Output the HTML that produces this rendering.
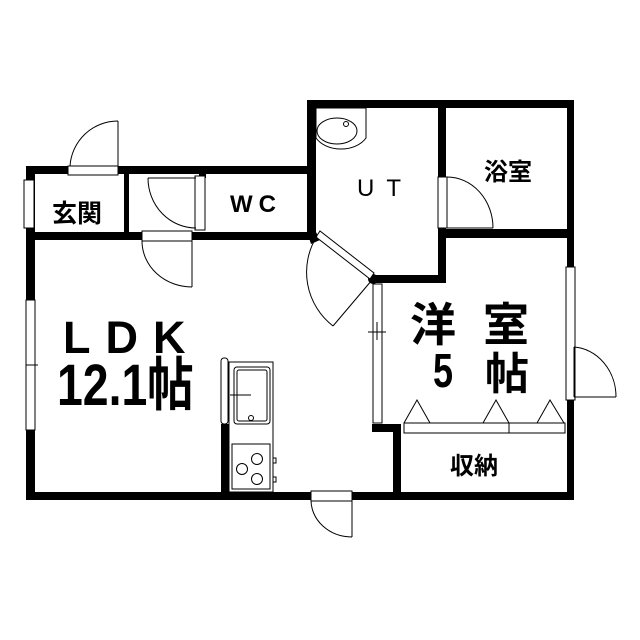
<!DOCTYPE html>
<html><head><meta charset="utf-8"><style>html,body{margin:0;padding:0;background:#fff}svg{display:block}</style></head>
<body>
<svg width="640" height="640" viewBox="0 0 640 640" xmlns="http://www.w3.org/2000/svg" font-family="'Liberation Sans','Noto Sans CJK JP',sans-serif">
<rect width="640" height="640" fill="#fff"/>
<g fill="#000">
<rect x="26" y="166" width="289" height="8"/>
<rect x="26" y="166" width="9" height="334"/>
<rect x="26" y="232" width="289" height="8"/>
<rect x="124" y="166" width="5" height="74"/>
<rect x="307" y="100" width="9" height="140"/>
<rect x="307" y="100" width="267" height="8"/>
<rect x="567" y="100" width="7" height="400"/>
<rect x="438" y="100" width="8" height="183"/>
<rect x="438" y="229" width="136" height="9"/>
<rect x="372" y="275" width="74" height="8"/>
<rect x="26" y="492" width="548" height="8"/>
<rect x="393" y="424" width="8" height="76"/>
<rect x="372" y="424" width="29" height="8"/>
<rect x="221" y="424" width="8" height="70"/>
<rect x="199" y="174" width="7" height="4"/>
<polygon points="307,232 316,232 320,240 311,244"/>
<circle cx="373" cy="279" r="5"/>
</g>
<g fill="#fff" stroke="#000" stroke-width="1">
<rect x="68" y="166" width="50" height="9"/>
<rect x="24" y="180" width="10" height="48"/>
<rect x="195" y="176" width="10" height="54"/>
<rect x="142" y="231" width="50" height="10"/>
<rect x="26" y="300" width="9" height="130"/>
<rect x="438" y="177" width="9" height="51"/>
<rect x="566" y="267" width="9" height="133"/>
<rect x="373" y="284" width="9" height="139"/>
<rect x="311" y="491" width="41" height="10"/>
<rect x="404" y="423" width="105" height="10"/>
<rect x="509" y="423" width="56" height="10"/>
<polygon points="316,237 320,231 374,273 370,279"/>
</g>
<g fill="none" stroke="#000" stroke-width="1">
<line x1="118" y1="121" x2="118" y2="166"/>
<path d="M118,121 A48,48 0 0 0 70,166"/>
<line x1="148" y1="178" x2="196" y2="178"/>
<path d="M148,178 A48,50 0 0 0 196,228"/>
<line x1="192" y1="241" x2="192" y2="287"/>
<path d="M142,241 A50,46 0 0 0 192,287"/>
<line x1="447" y1="228" x2="493" y2="228"/>
<path d="M447,177 A46,51 0 0 1 493,228"/>
<line x1="372" y1="280" x2="333" y2="326"/>
<path d="M317,236 A68,68 0 0 0 333,326"/>
<line x1="574" y1="347" x2="574" y2="397"/>
<path d="M574,347 A45,50 0 0 1 616,397"/>
<line x1="574" y1="397" x2="616" y2="397"/>
<line x1="352" y1="500" x2="352" y2="537"/>
<path d="M311,500 A41,37 0 0 0 352,537"/>
<line x1="26" y1="365" x2="38" y2="365"/>
<line x1="368" y1="332" x2="386" y2="332"/>
<line x1="377" y1="322" x2="377" y2="340"/>
<polyline points="404,423 417,400 430,423"/>
<polyline points="483,423 496,400 509,423"/>
<polyline points="537,423 550,400 564,423"/>
<path d="M316,108 L366,108 L366,138 A28,20 0 0 1 316,138 Z"/>
<ellipse cx="337" cy="131" rx="20" ry="13"/>
<circle cx="346" cy="124" r="2.5"/>
<rect x="221" y="358" width="7" height="66" rx="3"/>
<rect x="229" y="362" width="44" height="130"/>
<rect x="234" y="367" width="36" height="57" rx="3"/>
<rect x="237" y="370" width="30" height="51" rx="2"/>
<line x1="230" y1="395" x2="251" y2="395"/>
<circle cx="251" cy="418" r="2.5"/>
<rect x="232" y="444" width="38" height="45"/>
<circle cx="242" cy="469" r="5.5"/><circle cx="257" cy="459" r="5.5"/><circle cx="257" cy="479" r="5.5"/>
<rect x="273" y="458" width="3" height="5"/><rect x="273" y="477" width="3" height="5"/>
</g>
<g fill="#000" font-weight="bold">
<text x="52" y="222" font-size="25">玄関</text>
<text x="230" y="212" font-size="24" letter-spacing="6">WC</text>
<text x="357" y="196" font-size="24" letter-spacing="12" font-weight="normal">UT</text>
<text x="484" y="180" font-size="24">浴室</text>
<text x="450" y="474" font-size="24">収納</text>
<text x="63" y="353" font-size="45" letter-spacing="15">LDK</text>
<text x="57" y="405" font-size="58" transform="translate(57,0) scale(0.8,1) translate(-57,0)">12.1帖</text>
<text x="410" y="341" font-size="46" letter-spacing="27">洋室</text>
<text x="433" y="387" font-size="48" transform="translate(433,0) scale(0.75,1) translate(-433,0)">5</text>
<text x="485" y="389" font-size="44">帖</text>
</g>
</svg>
</body></html>
